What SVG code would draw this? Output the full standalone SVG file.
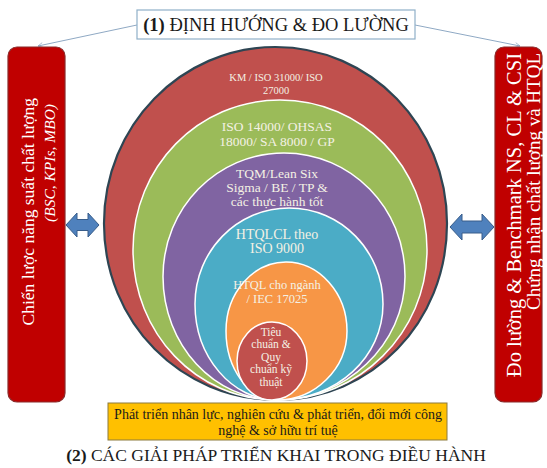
<svg xmlns="http://www.w3.org/2000/svg" width="547" height="468" viewBox="0 0 547 468">
<defs>
<style>
.band{stroke:#ffffff;stroke-width:1.5}
.lbl{font-family:"Liberation Serif","Times New Roman",serif;fill:#f4f1e4;text-anchor:middle}
.side{fill:#c00000;stroke:#8a2a2a;stroke-width:1.2}
.sidetxt{font-family:"Liberation Serif","Times New Roman",serif;fill:#ffffff;text-anchor:end}
.dbl{fill:#4f81bd;stroke:#385d8a;stroke-width:1}
.conn{stroke:#8fa9c4;stroke-width:1;fill:none}
.hdr{font-family:"Liberation Serif","Times New Roman",serif;fill:#1a1a1a;text-anchor:middle}
</style>
<marker id="ah" viewBox="0 0 10 10" refX="9" refY="5" markerWidth="6" markerHeight="6" orient="auto">
<path d="M1,1 L9,5 L1,9" fill="none" stroke="#8fa9c4" stroke-width="1.2"/>
</marker>
</defs>
<rect width="547" height="468" fill="#ffffff"/>

<g id="connectors">
<line class="conn" x1="137" y1="25" x2="38" y2="46" marker-end="url(#ah)"/>
<line class="conn" x1="415" y1="25" x2="520" y2="46" marker-end="url(#ah)"/>
<path class="dbl" d="M66,225 L77,213 L77,219.5 L88,219.5 L88,213 L99,225 L88,237 L88,230.5 L77,230.5 L77,237 Z"/>
<path class="dbl" d="M450,227 L462,214 L462,221 L482,221 L482,214 L494,227 L482,240 L482,233 L462,233 L462,240 Z"/>
</g>

<g id="title">
<rect x="137" y="10" width="278" height="29" fill="#ffffff" stroke="#8fb0c8" stroke-width="1.2"/>
<text class="hdr" x="276" y="31" font-size="18.5"><tspan font-weight="bold">(1)</tspan> ĐỊNH HƯỚNG &amp; ĐO LƯỜNG</text>
</g>

<g id="left-box">
<rect class="side" x="8" y="47" width="57" height="355" rx="9"/>
<text class="sidetxt" font-size="17.5" transform="translate(34,98) rotate(-90)">Chiến lược năng suất chất lượng</text>
<text class="sidetxt" font-size="15.5" font-style="italic" transform="translate(55,104) rotate(-90)">(BSC, KPIs,  MBO)</text>
</g>

<g id="right-box">
<rect class="side" x="495" y="47" width="47" height="355" rx="9"/>
<text class="sidetxt" font-size="20.5" transform="translate(521,53) rotate(-90)">Đo lường &amp; Benchmark NS, CL &amp; CSI</text>
<text class="sidetxt" font-size="19" transform="translate(540,53) rotate(-90)">Chứng nhận chất lượng và HTQL</text>
</g>

<g id="ring-km">
<path d="M277,400 C181.5,400 104,323 104,223.5 C104,126 180.8,47 275.5,47 C370.2,47 447,126 447,223.5 C447,323 370.9,400 277,400 Z" fill="#c0504d" stroke="#2e4553" stroke-width="2.2"/>
<text class="lbl" font-size="10.5"><tspan x="276" y="81">KM / ISO 31000/ ISO</tspan><tspan x="276" y="94">27000</tspan></text>
</g>

<g id="ring-iso14000">
<path class="band" d="M277,400 C196,400 133,333 133,250 C133,167 198,100 280,100 C362,100 427,167 427,250 C427,333 359,400 277,400 Z" fill="#9bbb59"/>
<text class="lbl" font-size="13.5"><tspan x="277" y="131">ISO 14000/ OHSAS</tspan><tspan x="277" y="146">18000/ SA 8000 / GP</tspan></text>
</g>

<g id="ring-tqm">
<path class="band" d="M277,400 C214,400 163,345 163,276.5 C163,208 217,153 284,153 C351,153 405,208 405,276.5 C405,345 345,400 277,400 Z" fill="#8064a2"/>
<text class="lbl" font-size="13.5"><tspan x="277" y="178">TQM/Lean Six</tspan><tspan x="277" y="192">Sigma  / BE / TP &amp;</tspan><tspan x="277" y="206">các thực hành tốt</tspan></text>
</g>

<g id="ring-htqlcl">
<path class="band" d="M277,400 C232,400 195,357 195,304 C195,251 237,208 289,208 C341,208 383,251 383,304 C383,357 337,400 277,400 Z" fill="#4bacc6"/>
<text class="lbl" font-size="14"><tspan x="277" y="239">HTQLCL theo</tspan><tspan x="277" y="253">ISO 9000</tspan></text>
</g>

<g id="ring-htql">
<path class="band" d="M277,400 C249,400 226,369 226,331 C226,293 253,262 286,262 C319,262 347,293 347,331 C347,369 315,400 277,400 Z" fill="#f79646"/>
<text class="lbl" font-size="12.5"><tspan x="277" y="289">HTQL cho ngành</tspan><tspan x="277" y="303">/ IEC 17025</tspan></text>
</g>

<g id="ring-tieuchuan">
<ellipse class="band" cx="272" cy="361" rx="35" ry="39" fill="#c0504d"/>
<text class="lbl" font-size="11.5"><tspan x="271" y="336">Tiêu</tspan><tspan x="271" y="348">chuẩn &amp;</tspan><tspan x="271" y="361">Quy</tspan><tspan x="271" y="373">chuẩn kỹ</tspan><tspan x="271" y="386">thuật</tspan></text>
</g>

<g id="bottom-box">
<rect x="108" y="403" width="339" height="37" fill="#ffc000" stroke="#8c7a3c" stroke-width="1"/>
<text class="hdr" font-size="14"><tspan x="278" y="419">Phát triển nhân lực, nghiên cứu &amp; phát triển, đổi mới công</tspan><tspan x="278" y="435">nghệ &amp; sở hữu trí tuệ</tspan></text>
</g>

<g id="bottom-title">
<text class="hdr" x="276" y="461" font-size="17.5"><tspan font-weight="bold">(2)</tspan> CÁC GIẢI PHÁP TRIỂN KHAI TRONG ĐIỀU HÀNH</text>
</g>
</svg>
